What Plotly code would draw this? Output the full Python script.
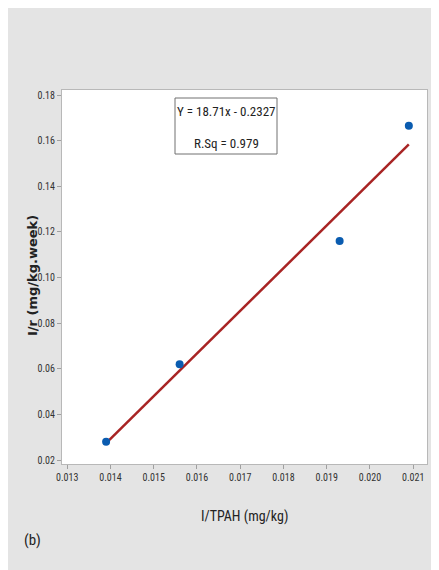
import plotly.graph_objects as go

# Data
x_inv_tpah = [0.0139, 0.0156, 0.0193, 0.0209]
y_inv_rate = [0.028, 0.062, 0.116, 0.1665]
fit_slope = 18.71
fit_intercept = -0.2327
r_sq = 0.979
x_ticks = [0.013, 0.014, 0.015, 0.016, 0.017, 0.018, 0.019, 0.020, 0.021]
y_ticks = [0.02, 0.04, 0.06, 0.08, 0.10, 0.12, 0.14, 0.16, 0.18]

OFF = 8  # page body margin
W, H = 431, 562
L, R, T, B = 54, 12, 82, 106
pw, ph = W - L - R, H - T - B

def px(xp):  # page x -> paper
    return (xp - OFF - L) / pw

def py(yp):  # page y -> paper
    return (H - B - (yp - OFF)) / ph

fx = [min(x_inv_tpah), max(x_inv_tpah)]
fy = [fit_slope * v + fit_intercept for v in fx]

narrow = "Liberation Sans Narrow, Arial Narrow, Roboto Condensed, sans-serif"

fig = go.Figure()
fig.add_trace(go.Scatter(x=fx, y=fy, mode="lines",
                         line=dict(color="#a82424", width=2.5), showlegend=False))
fig.add_trace(go.Scatter(x=x_inv_tpah, y=y_inv_rate, mode="markers",
                         marker=dict(color="#0a5cb0", size=8, line=dict(width=0)),
                         showlegend=False))

axis_common = dict(showgrid=False, zeroline=False, showline=True, mirror=True,
                   linecolor="#b8b8b8", linewidth=1, ticks="outside", ticklen=4,
                   tickcolor="#a0a0a0", tickfont=dict(family=narrow, size=10, color="#333333"))

fig.update_xaxes(range=[0.01288, 0.02132], tickvals=x_ticks, tickformat=".3f", **axis_common)
fig.update_yaxes(range=[0.01825, 0.1822], tickvals=y_ticks, tickformat=".2f", **axis_common)

def ann(text, xp, yp, size, family=narrow, angle=0):
    return dict(text=text, x=px(xp), y=py(yp), xref="paper", yref="paper",
                xanchor="center", yanchor="middle", showarrow=False, textangle=angle,
                font=dict(family=family, size=size, color="#222222"))

fig.update_layout(
    width=W, height=H,
    margin=dict(l=L, r=R, t=T, b=B),
    paper_bgcolor="#e4e4e4", plot_bgcolor="white",
    shapes=[
        dict(type="rect", xref="paper", yref="paper", x0=px(175), x1=px(277), y0=py(154), y1=py(98),
             fillcolor="white", line=dict(color="#707070", width=1)),
    ],
    annotations=[
        ann(f"Y = {fit_slope}x - {abs(fit_intercept)}", 226, 111, 13),
        ann(f"R.Sq = {r_sq}", 226, 143, 13),
        ann("I/TPAH (mg/kg)", 244, 516, 14),
        ann("<b>I/r (mg/kg.week)</b>", 32, 276, 13, family="DejaVu Sans", angle=-90),
        ann("(b)", 32, 540, 15),
    ],
)

fig.write_html("out.html")
